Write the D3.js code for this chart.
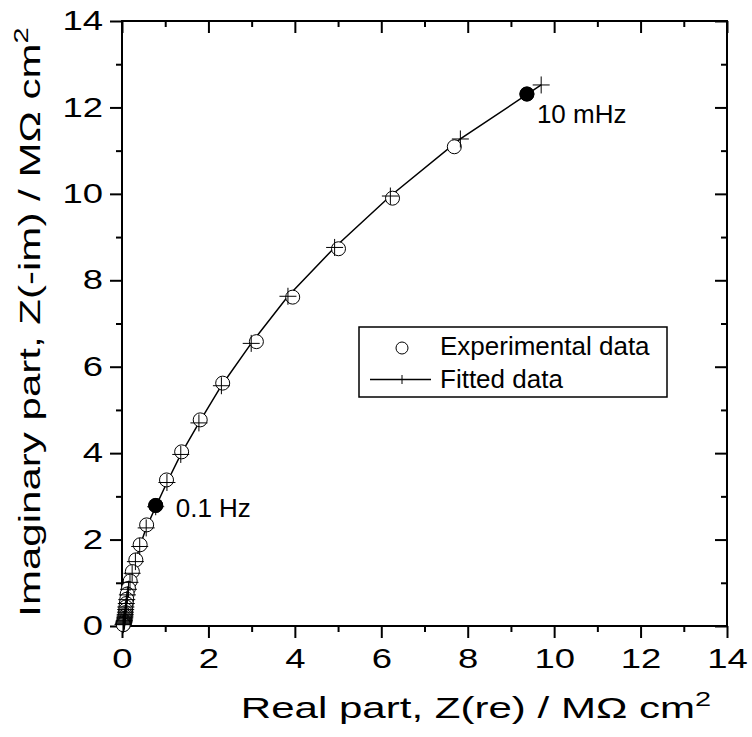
<!DOCTYPE html>
<html>
<head>
<meta charset="utf-8">
<script src="https://cdn.jsdelivr.net/npm/d3@7"></script>
<style>
    body { margin: 0; background: #fff; }
    svg { display: block; font-family: "Liberation Sans", Arial, sans-serif; }
</style>
</head>
<body>
<div id="nyquist"></div>
<script>
// experimental impedance (MOhm cm2)
const expRe = [9.37, 7.69, 6.26, 5.01, 3.95, 3.11, 2.33, 1.81, 1.38, 1.03, 0.78,
    0.57, 0.42, 0.32, 0.24, 0.19, 0.15, 0.12, 0.11, 0.10, 0.09, 0.085, 0.08,
    0.075, 0.07, 0.065, 0.06, 0.055, 0.05, 0.045, 0.04, 0.035, 0.03];
const expIm = [12.31, 11.09, 9.90, 8.73, 7.61, 6.58, 5.62, 4.77, 4.03, 3.38, 2.79,
    2.34, 1.88, 1.53, 1.26, 1.04, 0.87, 0.74, 0.62, 0.52, 0.44, 0.37, 0.31,
    0.26, 0.22, 0.18, 0.15, 0.12, 0.10, 0.08, 0.06, 0.04, 0.03];

// fitted impedance
const fitRe = [9.70, 7.83, 6.21, 4.92, 3.84, 2.99, 2.30, 1.78, 1.36, 1.04, 0.78,
    0.56, 0.41, 0.31, 0.235, 0.185, 0.15, 0.125, 0.11, 0.10, 0.09, 0.085, 0.08,
    0.075, 0.07, 0.065, 0.06, 0.055, 0.05, 0.045, 0.04, 0.035, 0.03, 0.025];
const fitIm = [12.52, 11.27, 9.95, 8.76, 7.63, 6.54, 5.56, 4.70, 3.97, 3.32, 2.76,
    2.27, 1.84, 1.49, 1.22, 1.01, 0.85, 0.72, 0.61, 0.52, 0.44, 0.38, 0.32,
    0.27, 0.23, 0.19, 0.16, 0.13, 0.11, 0.09, 0.07, 0.05, 0.04, 0.03];

// frequency markers (index into experimental data)
const markIdx = [10, 0];
const markLabel = ['0.1 Hz', '10 mHz'];

const majorTicks = [0, 2, 4, 6, 8, 10, 12, 14];
const minorTicks = [1, 3, 5, 7, 9, 11, 13];
const legendLabels = ['Experimental data', 'Fitted data'];

drawNyquist();

function drawNyquist() {
    const width = 752, height = 737;
    const margin = {top: 21, right: 25, bottom: 111, left: 122};
    const tickFont = 27, tickStretch = 1.35;    // axis text in the original is wide
    const titleFont = 29, titleStretch = 1.45;

    const svg = d3.select('#nyquist')
        .append('svg')
            .attr('width', width)
            .attr('height', height);

    const x = d3.scaleLinear().domain([0, 14]).range([margin.left, width - margin.right]);
    const y = d3.scaleLinear().domain([0, 14]).range([height - margin.bottom, margin.top]);

    const exp = expRe.map((d, i) => ({re: d, im: expIm[i]}));
    const fit = fitRe.map((d, i) => ({re: d, im: fitIm[i]}));

    // axes: outward on bottom/left, mirrored (inward) on top/right
    const styleAxis = g => {
        g.select('.domain').remove();
        g.selectAll('.tick line').attr('stroke', '#000').attr('stroke-width', 2);
        g.selectAll('.tick text')
            .attr('fill', '#000')
            .style('font-size', tickFont + 'px')
            .attr('transform', function() {
                const tx = +this.getAttribute('x') || 0;
                return `translate(${tx},0) scale(${tickStretch},1) translate(${-tx},0)`;
            });
    };
    const addAxis = (axis, tr, vals, size, labels, pad) => svg.append('g')
        .attr('transform', tr)
        .call(axis.tickValues(vals).tickSize(size).tickSizeOuter(0)
            .tickPadding(pad).tickFormat(labels ? d3.format('d') : ''))
        .call(styleAxis);

    const bx = `translate(0,${y(0)})`, ty = `translate(0,${y(14)})`;
    const lx = `translate(${x(0)},0)`, rx = `translate(${x(14)},0)`;
    addAxis(d3.axisBottom(x), bx, majorTicks, 12, true, 11);
    addAxis(d3.axisBottom(x), bx, minorTicks, 6, false, 11);
    addAxis(d3.axisLeft(y), lx, majorTicks, 12, true, 7);
    addAxis(d3.axisLeft(y), lx, minorTicks, 6, false, 7);
    addAxis(d3.axisTop(x), ty, majorTicks, -12, false, 0);
    addAxis(d3.axisTop(x), ty, minorTicks, -6, false, 0);
    addAxis(d3.axisRight(y), rx, majorTicks, -12, false, 0);
    addAxis(d3.axisRight(y), rx, minorTicks, -6, false, 0);

    svg.append('rect')
        .attr('x', x(0)).attr('y', y(14))
        .attr('width', x(14) - x(0)).attr('height', y(0) - y(14))
        .attr('fill', 'none').attr('stroke', '#000').attr('stroke-width', 2);

    // axis titles
    const xt = svg.append('text')
        .attr('transform', `translate(476,718) scale(${titleStretch},1)`)
        .attr('text-anchor', 'middle')
        .style('font-size', titleFont + 'px')
        .text('Real part, Z(re) / M\u03A9 cm');
    xt.append('tspan').attr('dy', -12).style('font-size', '20px').text('2');

    const yt = svg.append('text')
        .attr('transform', `translate(40,322) rotate(-90) scale(${titleStretch},1)`)
        .attr('text-anchor', 'middle')
        .style('font-size', titleFont + 'px')
        .text('Imaginary part, Z(-im) / M\u03A9 cm');
    yt.append('tspan').attr('dy', -12).style('font-size', '20px').text('2');

    // fitted line
    const line = d3.line().x(d => x(d.re)).y(d => y(d.im));
    svg.append('path')
        .datum(fit)
        .attr('fill', 'none')
        .attr('stroke', '#000')
        .attr('stroke-width', 1.5)
        .attr('d', line);

    // experimental circles
    svg.append('g')
        .selectAll('circle')
        .data(exp)
        .join('circle')
            .attr('cx', d => x(d.re))
            .attr('cy', d => y(d.im))
            .attr('r', 7)
            .attr('fill', (d, i) => markIdx.includes(i) ? '#000' : '#fff')
            .attr('stroke', '#000')
            .attr('stroke-width', 1);

    // fitted crosses
    const cross = 8.5;
    svg.append('g')
        .selectAll('path')
        .data(fit)
        .join('path')
            .attr('fill', 'none')
            .attr('stroke', '#000')
            .attr('stroke-width', 1)
            .attr('d', d => `M${x(d.re) - cross},${y(d.im)}h${2 * cross}M${x(d.re)},${y(d.im) - cross}v${2 * cross}`);

    // redraw marked points on top
    svg.append('g')
        .selectAll('circle')
        .data(markIdx.map(i => exp[i]))
        .join('circle')
            .attr('cx', d => x(d.re))
            .attr('cy', d => y(d.im))
            .attr('r', 7.5)
            .attr('fill', '#000');

    // frequency labels
    const labOff = [[20, 12], [10, 29]];
    svg.append('g')
        .selectAll('text')
        .data(markIdx)
        .join('text')
            .attr('x', (d, i) => x(exp[d].re) + labOff[i][0])
            .attr('y', (d, i) => y(exp[d].im) + labOff[i][1])
            .style('font-size', '26px')
            .text((d, i) => markLabel[i]);

    // legend
    const lg = svg.append('g').attr('transform', 'translate(359,327)');
    lg.append('rect')
        .attr('width', 308).attr('height', 70)
        .attr('fill', '#fff').attr('stroke', '#000').attr('stroke-width', 1.5);
    lg.append('circle')
        .attr('cx', 43).attr('cy', 21).attr('r', 6)
        .attr('fill', 'none').attr('stroke', '#000').attr('stroke-width', 1);
    lg.append('path')
        .attr('stroke', '#000').attr('stroke-width', 1.5)
        .attr('d', 'M11,52.5h61');
    lg.append('path')
        .attr('stroke', '#000').attr('stroke-width', 1)
        .attr('d', 'M43,48v9');
    lg.selectAll('text.lab')
        .data(legendLabels)
        .join('text')
            .attr('class', 'lab')
            .attr('x', 81)
            .attr('y', (d, i) => 28 + i * 33)
            .style('font-size', '26px')
            .text(d => d);
}
</script>
</body>
</html>
